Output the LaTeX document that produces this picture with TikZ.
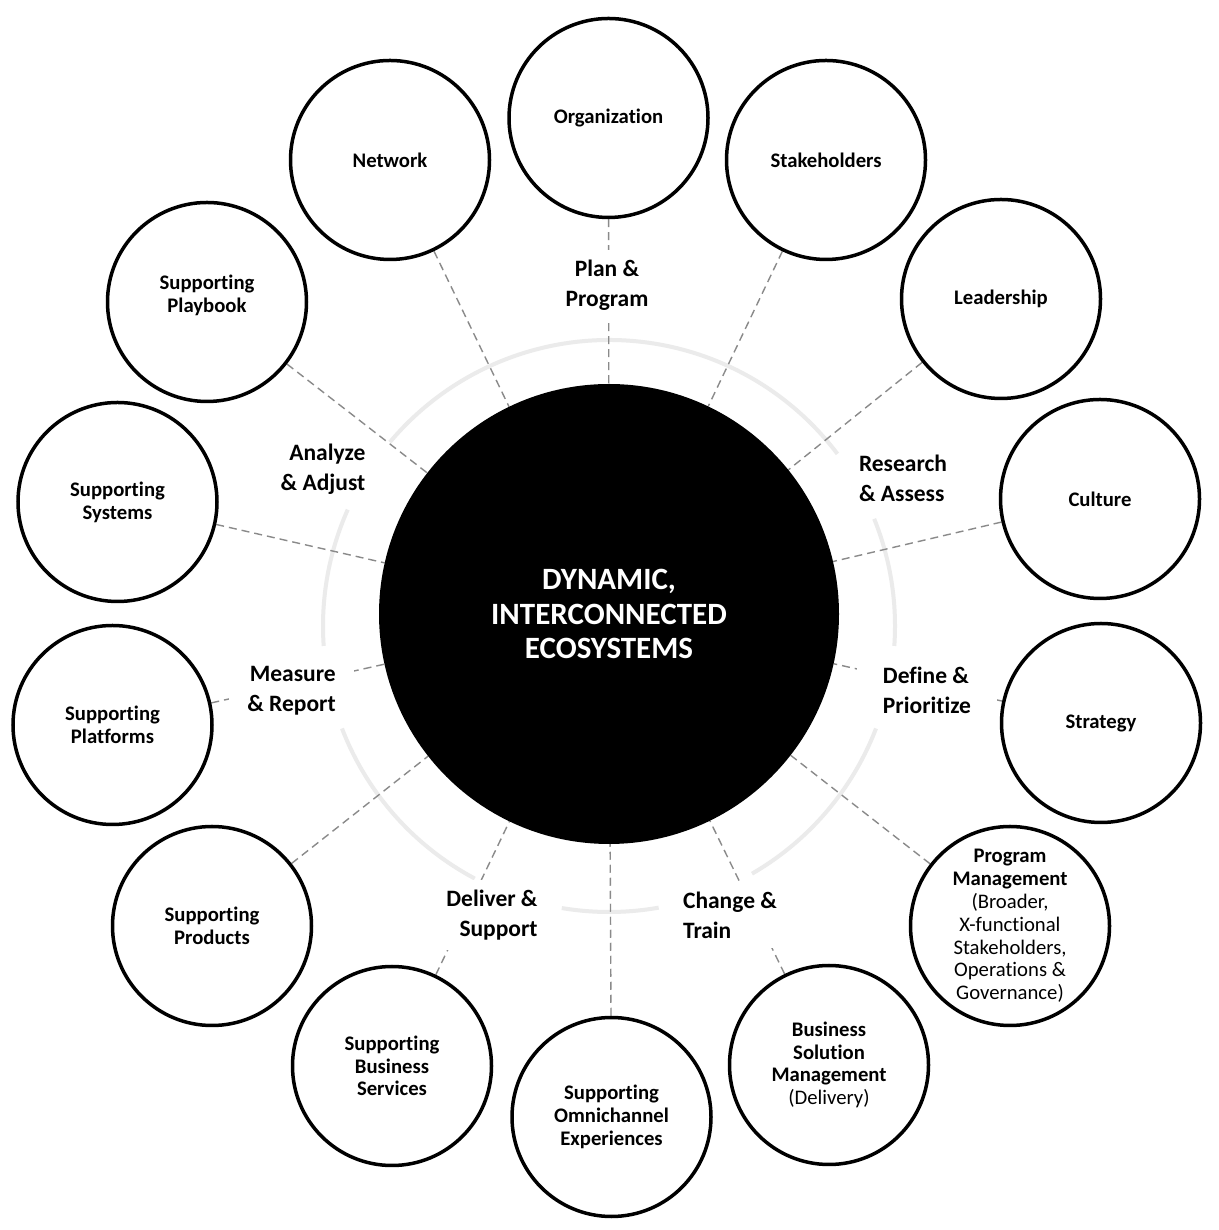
\documentclass[tikz,border=0pt]{standalone}
\usepackage{fontspec}
\setmainfont{Carlito}[Ligatures=CommonOff]
\usetikzlibrary{backgrounds}
\definecolor{linkgray}{HTML}{8A8A8A}
\definecolor{ringgray}{HTML}{EBEBEB}
\begin{document}
\begin{tikzpicture}[x=1pt,y=1pt,
  outertext/.style={align=center,inner sep=0pt,font=\fontsize{20.7}{22.8}\selectfont\bfseries},
  outer/.style={circle,draw=black,line width=3.5pt,fill=white,minimum size=199pt,inner sep=0pt,outertext},
  phase/.style={fill=white,inner xsep=18pt,inner ysep=10pt,
    font=\fontsize{23.5}{30}\selectfont\bfseries},
  phasefree/.style={inner sep=2pt,font=\fontsize{23.5}{30}\selectfont\bfseries},
  link/.style={draw=linkgray,dash pattern=on 8pt off 5pt,line width=1.4pt},
  ring/.style={draw=ringgray,line width=4pt}]
\useasboundingbox (0,0) rectangle (1218,1230);

% center
\node[circle,fill=black,minimum size=460pt,inner sep=0pt,text=white,align=center,
  font=\fontsize{31}{34.5}\selectfont\bfseries] (core) at (609,616) {DYNAMIC,\\INTERCONNECTED\\ECOSYSTEMS};

% outer circles
\node[outer] (org)   at (608.5,1112) {Organization};
\node[outer] (stake) at (826,1070) {Stakeholders};
\node[outer] (lead)  at (1001,931) {Leadership};
\node[outer] (cult)  at (1100,731) {Culture};
\node[outer] (strat) at (1101,507) {Strategy};
\node[outer] (prog)  at (1010,304) {Program\\Management\\\mdseries(Broader,\\\mdseries X-functional\\\mdseries Stakeholders,\\\mdseries Operations \&\\\mdseries Governance)};
\node[outer] (bsm)   at (829,165) {Business\\Solution\\Management\\\mdseries(Delivery)};
\node[outer] (omni)  at (611.5,113) {Supporting\\Omnichannel\\Experiences};
\node[outer] (bserv) at (392,164) {Supporting\\Business\\Services};
\node[outer] (prod)  at (212,304) {Supporting\\Products};
\node[outer] (plat)  at (112.5,505) {Supporting\\Platforms};
\node[outer] (sys)   at (117.5,728) {Supporting\\Systems};
\node[outer] (play)  at (207,928) {};
\node[outertext] (playtxt) at (207,935) {Supporting\\Playbook};
\node[outer] (net)   at (390,1070) {Network};

% phase labels
\node[phase,align=center] (plan) at (607,945) {Plan \&\\Program};
\node[phasefree,align=left] (research) at (903,752) {Research\\\& Assess};
\node[phase,align=left,inner xsep=26pt] (define) at (927,540) {Define \&\\Prioritize};
\node[phase,align=left] (change) at (730,315) {Change \&\\Train};
\node[phase,align=right] (deliver) at (492,315) {Deliver \&\\Support};
\node[phase,align=right] (measure) at (291.5,539) {Measure\\\& Report};
\node[phasefree,align=right] (analyze) at (323,761) {Analyze\\\& Adjust};

\begin{pgfonlayer}{background}
  \fill[white] (0,0) rectangle (1218,1230);
  % grey ring segments
  \draw[ring] (609,604) ++(37:286) arc[start angle=37,end angle=140,radius=286];
  \draw[ring] (609,604) ++(156:286) arc[start angle=156,end angle=184,radius=286];
  \draw[ring] (609,604) ++(201:286) arc[start angle=201,end angle=242,radius=286];
  \draw[ring] (609,604) ++(260.5:286) arc[start angle=260.5,end angle=280,radius=286];
  \draw[ring] (609,604) ++(300:286) arc[start angle=300,end angle=339,radius=286];
  \draw[ring] (609,604) ++(356:286) arc[start angle=356,end angle=382,radius=286];
  % dashed connectors
  \foreach \n in {org,stake,lead,cult,strat,prog,bsm,omni,bserv,prod,plat,sys,play,net}
    \draw[link] (\n) -- (core);
\end{pgfonlayer}
\end{tikzpicture}
\end{document}
